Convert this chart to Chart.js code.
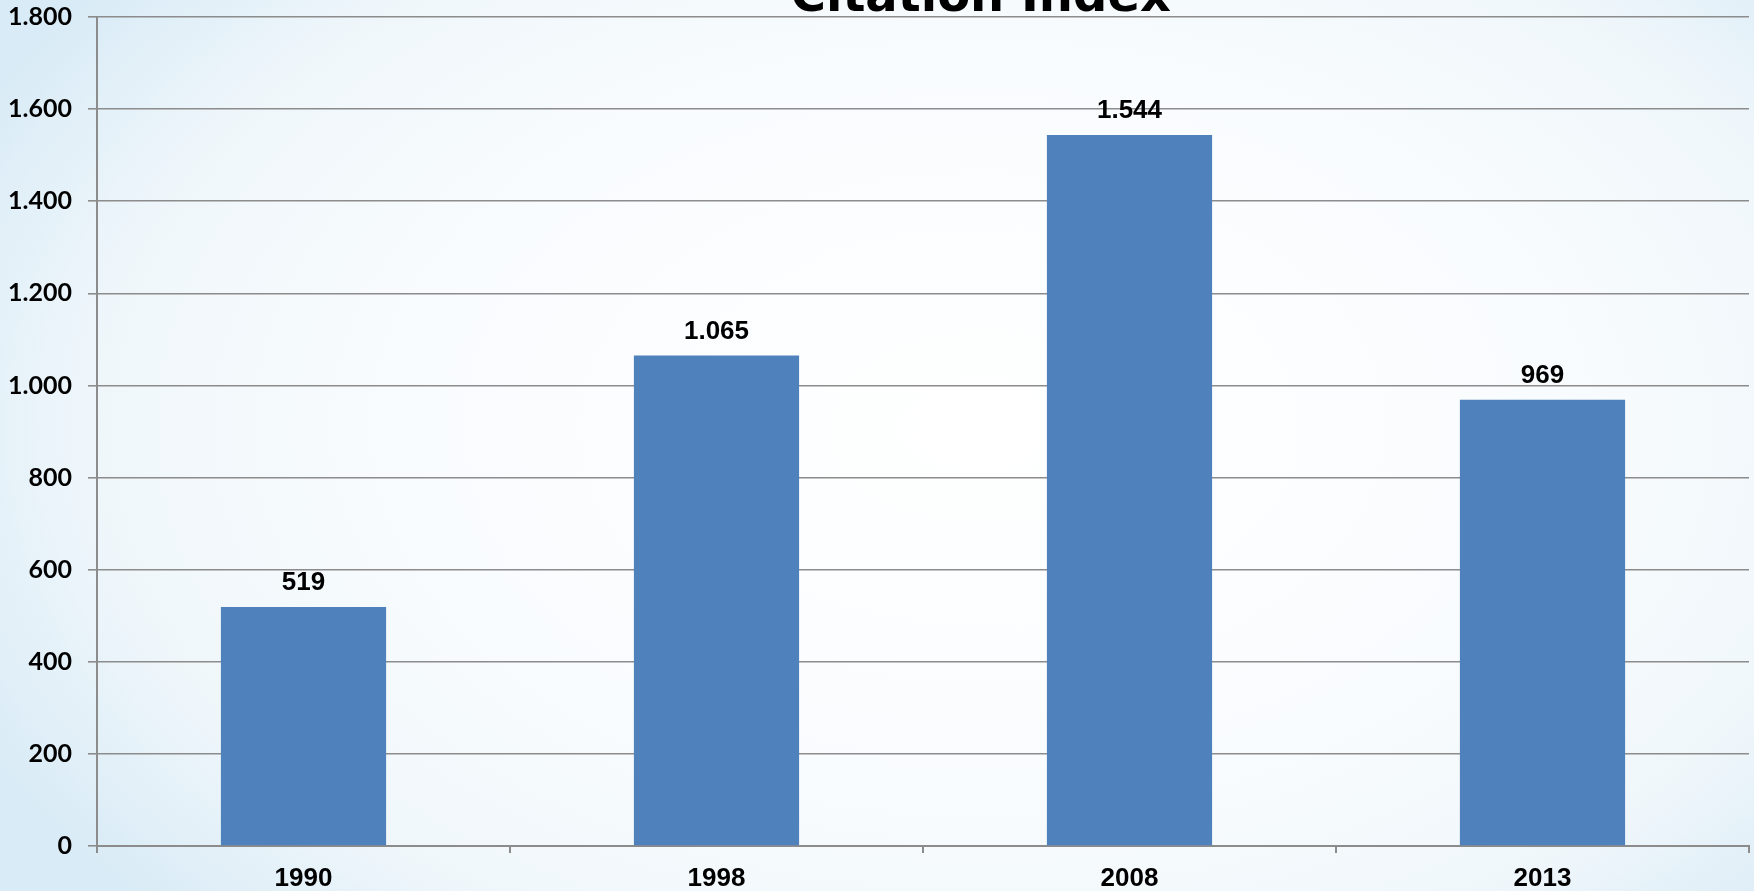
<!DOCTYPE html>
<html>
<head>
<meta charset="utf-8">
<script src="https://cdn.jsdelivr.net/npm/chart.js@4.4.1/dist/chart.umd.min.js"></script>
<style>
  html, body { margin: 0; padding: 0; width: 1754px; height: 891px; overflow: hidden; }
  body {
    background: radial-gradient(ellipse 64% 80% at 56% 48%, #ffffff 0%, #f9fcfe 50%, #f0f7fb 78%, #d9ebf6 100%);
  }
  #wrap { position: absolute; left: 0; top: 0; width: 1754px; height: 891px; }
</style>
</head>
<body>
<div id="wrap"><canvas id="c" width="1754" height="891"></canvas></div>
<script>
const titleText = 'Citation Index';
const categories = ['1990', '1998', '2008', '2013'];
const citations = [519, 1065, 1544, 969];
const yTicks = [0, 200, 400, 600, 800, 1000, 1200, 1400, 1600, 1800];

function fmt(v) {
  return String(v).replace(/\B(?=(\d{3})+(?!\d))/g, '.');
}

const valueLabels = {
  id: 'valueLabels',
  afterDatasetsDraw(chart) {
    const ctx = chart.ctx;
    ctx.save();
    ctx.font = 'bold 26px "Liberation Sans", Arial, sans-serif';
    ctx.fillStyle = '#000000';
    ctx.textAlign = 'center';
    ctx.textBaseline = 'alphabetic';
    chart.getDatasetMeta(0).data.forEach((bar, i) => {
      ctx.fillText(fmt(chart.data.datasets[0].data[i]), bar.x, bar.y - 17);
    });
    ctx.restore();
  }
};

const cutTitle = {
  id: 'cutTitle',
  afterDraw(chart) {
    const ctx = chart.ctx;
    const a = chart.chartArea;
    ctx.save();
    ctx.font = 'bold 48px "DejaVu Sans", Verdana, sans-serif';
    ctx.fillStyle = '#000000';
    ctx.textAlign = 'center';
    ctx.textBaseline = 'alphabetic';
    ctx.fillText(titleText, a.left + (a.right - a.left) * 0.535, 11);
    ctx.restore();
  }
};

new Chart(document.getElementById('c'), {
  type: 'bar',
  data: {
    labels: categories,
    datasets: [{
      data: citations,
      backgroundColor: '#4F81BD',
      borderWidth: 0,
      categoryPercentage: 1.0,
      barPercentage: 0.4
    }]
  },
  options: {
    responsive: false,
    animation: false,
    devicePixelRatio: 1,
    layout: { padding: { top: 17, right: 5, left: 0, bottom: 0 } },
    plugins: {
      legend: { display: false },
      title: { display: false },
      tooltip: { enabled: false }
    },
    scales: {
      x: {
        grid: {
          display: true,
          drawOnChartArea: false,
          drawTicks: true,
          tickLength: 7,
          offset: true,
          color: '#8c8c8c',
          lineWidth: 2
        },
        border: { display: true, color: '#8c8c8c', width: 2 },
        ticks: {
          color: '#000000',
          font: { family: '"Liberation Sans", Arial, sans-serif', size: 26, weight: 'bold' },
          padding: 10,
          maxRotation: 0
        },
        afterFit(scale) { scale.height = 45; scale.paddingLeft = 0; scale.paddingRight = 0; }
      },
      y: {
        min: 0,
        max: 1800,
        afterBuildTicks(scale) { scale.ticks = yTicks.map(v => ({ value: v })); },
        grid: {
          color: '#8c8c8c',
          lineWidth: 1.6,
          tickLength: 9,
          drawTicks: true
        },
        border: { display: true, color: '#8c8c8c', width: 2 },
        ticks: {
          color: '#000000',
          font: { family: 'Lato, "Open Sans", sans-serif', size: 25, weight: 'bold' },
          padding: 16,
          callback: (v) => fmt(v)
        },
        afterFit(scale) { scale.width = 97; scale.paddingTop = 0; scale.paddingBottom = 0; }
      }
    }
  },
  plugins: [valueLabels, cutTitle]
});
</script>
</body>
</html>
